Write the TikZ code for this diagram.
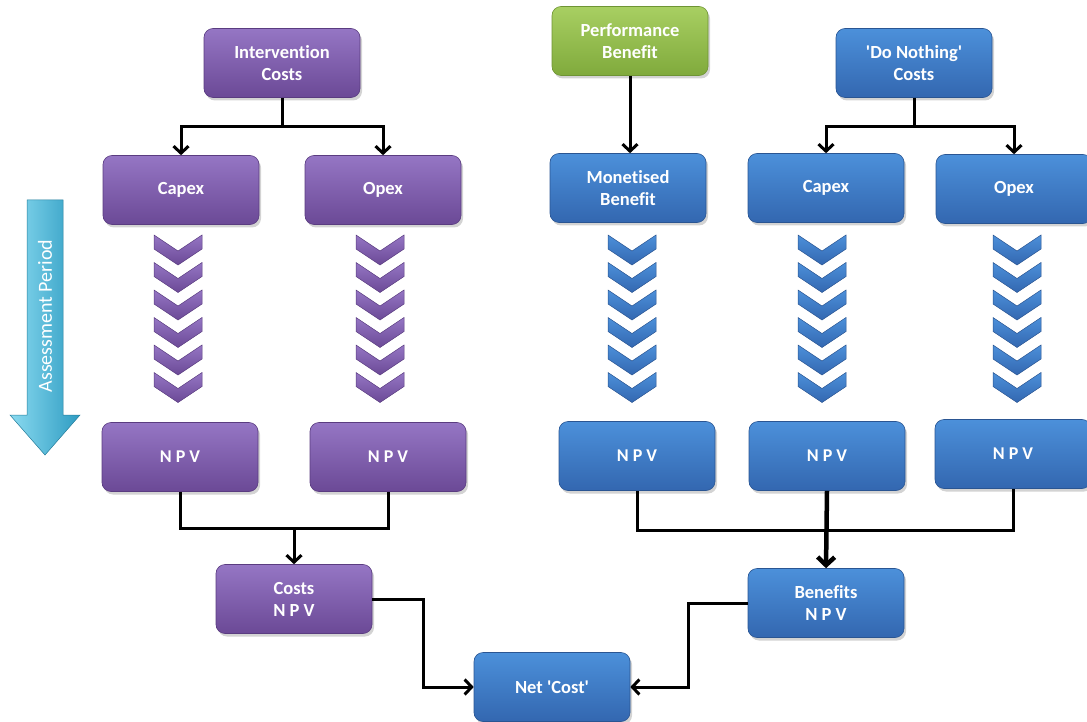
\documentclass[tikz,border=0pt]{standalone}
\usepackage{fontspec}
\setmainfont{Carlito}[Ligatures={TeX,NoCommon}]
\newfontfamily\carlnm{Carlito}[Ligatures=NoCommon]
\usetikzlibrary{arrows.meta,shadows}
\definecolor{purT}{HTML}{9576C4}
\definecolor{purB}{HTML}{6B4996}
\definecolor{purD}{HTML}{5A3C80}
\definecolor{bluT}{HTML}{4C90DA}
\definecolor{bluB}{HTML}{3367B0}
\definecolor{bluD}{HTML}{2A5592}
\definecolor{grnT}{HTML}{A8CF62}
\definecolor{grnB}{HTML}{80AA3C}
\definecolor{grnD}{HTML}{6E9434}
\definecolor{cyaL}{HTML}{8ADAF0}
\definecolor{cyaR}{HTML}{2E9CC2}
\newcommand{\sq}{{\carlnm\char39}}
\begin{document}
\begin{tikzpicture}[x=1pt,y=-1pt,
  box/.style={rounded corners=9pt, minimum width=156pt, minimum height=69pt,
    align=center, text=white, font=\fontsize{18.5}{22}\selectfont\bfseries,
    drop shadow={shadow xshift=2pt, shadow yshift=-3pt, opacity=0.35}},
  pbox/.style={box, top color=purT, bottom color=purB, draw=purD, line width=0.6pt},
  bbox/.style={box, top color=bluT, bottom color=bluB, draw=bluD, line width=0.6pt},
  gbox/.style={box, top color=grnT, bottom color=grnB, draw=grnD, line width=0.6pt},
  npvtxt/.style={font=\fontsize{18}{22}\selectfont\bfseries},
  conn/.style={line width=3pt, black},
  arr/.style={conn, -{Straight Barb[length=7pt,width=15pt]}},
  pchev/.style={top color=purT, bottom color=purB, draw=purD, line width=0.5pt},
  bchev/.style={top color=bluT, bottom color=bluB, draw=bluD, line width=0.5pt},
  pics/chev/.style={code={\path[#1] (-24,0) -- (0,16) -- (24,0) -- (24,14) -- (0,30) -- (-24,14) -- cycle;}}
]
\useasboundingbox (0,0) rectangle (1087,722);

% Assessment period arrow
\path[left color=cyaL, right color=cyaR, draw=cyaR!80!black, line width=0.5pt]
  (27,200) -- (63,200) -- (63,415) -- (80,415) -- (45,455) -- (10,415) -- (27,415) -- cycle;
\node[rotate=90, text=white, font=\fontsize{20}{24}\selectfont] (ap) at (45,316) {Assessment Period};

% top boxes
\node[pbox] (ic) at (282,63) {Intervention\\Costs};
\node[gbox] (pb) at (630,41) {Performance\\Benefit};
\node[bbox] (dn) at (914,63) {\sq Do Nothing\sq\\Costs};

% second row
\node[pbox] (capL) at (181,190) {Capex};
\node[pbox] (opxL) at (383,190) {Opex};
\node[bbox] (mb) at (628,188) {Monetised\\Benefit};
\node[bbox] (capR) at (826,188) {Capex};
\node[bbox] (opxR) at (1014,189) {Opex};

% chevrons
\foreach \k in {0,...,5}{
  \pic at (178,{235+27.5*\k}) {chev=pchev};
  \pic at (380,{235+27.5*\k}) {chev=pchev};
  \pic at (632,{235+27.5*\k}) {chev=bchev};
  \pic at (822,{235+27.5*\k}) {chev=bchev};
  \pic at (1017,{235+27.5*\k}) {chev=bchev};
}

% NPV row
\node[pbox, npvtxt] (nL1) at (180,457) {N P V};
\node[pbox, npvtxt] (nL2) at (388,457) {N P V};
\node[bbox, npvtxt] (nR1) at (637,456) {N P V};
\node[bbox, npvtxt] (nR2) at (827,456) {N P V};
\node[bbox, npvtxt] (nR3) at (1013,454) {N P V};

% bottom
\node[pbox] (cn) at (294,599) {Costs\\N P V};
\node[bbox] (bn) at (826,603) {Benefits\\N P V};
\node[bbox] (net) at (552,687) {Net \sq Cost\sq};

% connectors top
\draw[conn] (ic.south) -- ++(0,29) coordinate (icj);
\draw[arr] (icj) -| (capL.north);
\draw[arr] (icj) -| (opxL.north);
\draw[conn] (dn.south) -- ++(0,29) coordinate (dnj);
\draw[arr] (dnj) -| (capR.north);
\draw[arr] (dnj) -| (opxR.north);
\draw[arr] (pb.south) -- (pb.south |- mb.north);

% NPV joins
\draw[conn] (nL1.south) -- ++(0,37) -| (nL2.south);
\coordinate (jL) at (cn.north |- 0,528);
\draw[arr] (jL) -- (cn.north);
\draw[conn] (nR1.south) -- ++(0,40) -| (nR3.south);
\draw[conn, line width=4.5pt, -{Straight Barb[length=8pt,width=17pt]}] (nR2.south) -- (bn.north);

% to net cost
\draw[arr] (cn.east) -- ++(51,0) |- (net.west);
\draw[arr] (bn.west) -- ++(-59,0) |- (net.east);
\end{tikzpicture}
\end{document}
